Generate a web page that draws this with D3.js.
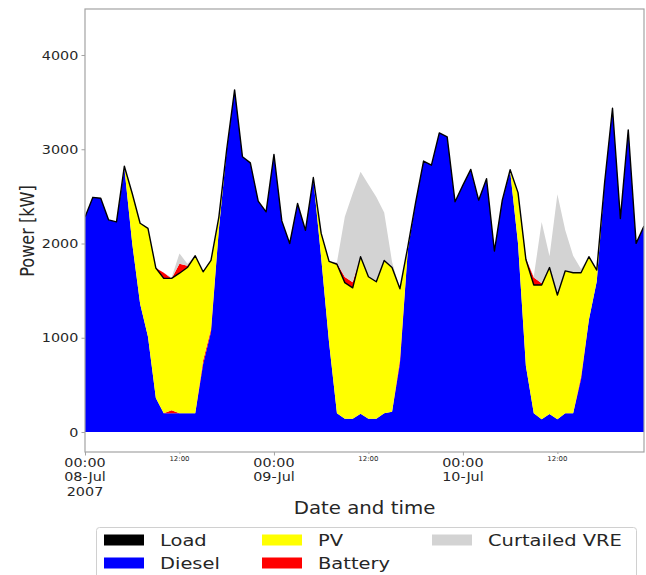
<!DOCTYPE html>
<html>
<head>
<meta charset="utf-8">
<script src="https://cdn.jsdelivr.net/npm/d3@7"></script>
<style>
  body { margin: 0; background: #fff; }
  svg { display: block; font-family: "DejaVu Sans", sans-serif; }
</style>
</head>
<body>
<div id="chart"></div>
<script>
// hourly values in kW, 08-Jul-2007 00:00 .. 10-Jul-2007 23:00
const load = [2280, 2490, 2480, 2250, 2230, 2820, 2530, 2215, 2160, 1740, 1630, 1630, 1685, 1745, 1870, 1700, 1820, 2280, 3000, 3630, 2920, 2855, 2450, 2336,
	2945, 2240, 2000, 2425, 2140, 2700, 2107, 1810, 1780, 1585, 1530, 1860, 1647, 1594, 1820, 1745, 1520, 1965, 2440, 2875, 2831, 3174, 3131, 2443,
	2619, 2786, 2460, 2688, 1920, 2460, 2782, 2540, 1830, 1559, 1559, 1745, 1453, 1710, 1690, 1690, 1860, 1718, 2650, 3435, 2266, 3205, 2001, 2185];
const diesel = [2280, 2490, 2480, 2250, 2230, 2800, 2000, 1360, 1010, 360, 200, 200, 200, 200, 200, 720, 1060, 2150, 2990, 3630, 2920, 2855, 2450, 2336,
	2945, 2240, 2000, 2425, 2140, 2690, 1850, 950, 200, 140, 140, 195, 140, 140, 200, 215, 730, 1930, 2440, 2875, 2831, 3174, 3131, 2443,
	2619, 2786, 2460, 2688, 1920, 2460, 2770, 2000, 700, 200, 135, 190, 135, 200, 200, 560, 1190, 1600, 2650, 3435, 2266, 3205, 2001, 2185];
// battery discharge (sits between diesel and PV)
const battery = [0, 0, 0, 0, 0, 0, 0, 0, 0, 0, 0, 30, 0, 0, 0, 40, 30, 0, 0, 0, 0, 0, 0, 0,
	0, 0, 0, 0, 0, 0, 0, 0, 0, 0, 0, 0, 0, 0, 0, 0, 40, 0, 0, 0, 0, 0, 0, 0,
	0, 0, 0, 0, 0, 0, 0, 0, 0, 0, 0, 0, 0, 0, 0, 30, 0, 0, 0, 0, 0, 0, 0, 0];
const pv = [0, 0, 0, 0, 0, 20, 530, 855, 1150, 1380, 1430, 1400, 1485, 1545, 1670, 940, 730, 130, 10, 0, 0, 0, 0, 0,
	0, 0, 0, 0, 0, 10, 257, 860, 1580, 1445, 1390, 1665, 1507, 1454, 1620, 1530, 750, 35, 0, 0, 0, 0, 0, 0,
	0, 0, 0, 0, 0, 0, 12, 540, 1130, 1359, 1424, 1555, 1318, 1510, 1490, 1100, 670, 118, 0, 0, 0, 0, 0, 0];
// battery charging (above the load line)
const charge = [0, 0, 0, 0, 0, 0, 0, 0, 0, 0, 60, 0, 100, 20, 0, 0, 0, 0, 0, 0, 0, 0, 0, 0,
	0, 0, 0, 0, 0, 0, 0, 0, 10, 60, 60, 0, 0, 0, 0, 0, 0, 0, 0, 0, 0, 0, 0, 0,
	0, 0, 0, 0, 0, 0, 0, 0, 10, 80, 20, 0, 0, 0, 0, 0, 0, 0, 0, 0, 0, 0, 0, 0];
const curtailed = [0, 0, 0, 0, 0, 0, 0, 0, 0, 0, 0, 10, 110, 20, 0, 0, 0, 0, 0, 0, 0, 0, 0, 0,
	0, 0, 0, 0, 0, 0, 0, 0, 10, 640, 940, 900, 980, 900, 510, 60, 0, 0, 0, 0, 0, 0, 0, 0,
	0, 0, 0, 0, 0, 0, 0, 0, 0, 10, 650, 120, 1070, 430, 180, 40, 0, 0, 0, 0, 0, 0, 0, 0];

const yTicks = [0, 1000, 2000, 3000, 4000];
const majorTicks = [new Date(2007, 6, 8, 0), new Date(2007, 6, 9, 0), new Date(2007, 6, 10, 0)];
const minorTicks = [new Date(2007, 6, 8, 12), new Date(2007, 6, 9, 12), new Date(2007, 6, 10, 12)];
const legendLabels = ['Load', 'Diesel', 'PV', 'Battery', 'Curtailed VRE'];
const legendColors = ['#000000', '#0000ff', '#ffff00', '#ff0000', '#d3d3d3'];

const width = 646, height = 575;
const textColor = '#262626';
const spineColor = '#a3a3a3';

let start = new Date(2007, 6, 8, 0);
let times = load.map((d, i) => d3.timeHour.offset(start, i));

let svg = d3.select('#chart').append('svg')
	.attr('width', width)
	.attr('height', height);

let x = d3.scaleTime()
	.domain(d3.extent(times))
	.range([85, 644]);
let y = d3.scaleLinear()
	.domain([-212, 4488])
	.range([452, 9]);

// stacked layers
let rows = times.map((t, i) => ({
	time: t, diesel: diesel[i], battery: battery[i], pv: pv[i], charge: charge[i], curtailed: curtailed[i]
}));
let keys = ['diesel', 'battery', 'pv', 'charge', 'curtailed'];
let fills = { diesel: '#0000ff', battery: '#ff0000', pv: '#ffff00', charge: '#ff0000', curtailed: '#d3d3d3' };
let series = d3.stack().keys(keys)(rows);

svg.append('defs').append('clipPath')
	.attr('id', 'plot-clip')
	.append('rect')
	.attr('x', 85).attr('y', 9)
	.attr('width', 559).attr('height', 443);

let area = d3.area()
	.x(d => x(d.data.time))
	.y0(d => y(d[0]))
	.y1(d => y(d[1]));

let plot = svg.append('g').attr('clip-path', 'url(#plot-clip)');
plot.selectAll('.layer')
	.data(series)
	.join('path')
	.attr('class', 'layer')
	.attr('d', area)
	.attr('fill', d => fills[d.key]);

let loadLine = d3.line()
	.x((d, i) => x(times[i]))
	.y(d => y(d));
plot.append('path')
	.attr('d', loadLine(load))
	.attr('fill', 'none')
	.attr('stroke', '#000')
	.attr('stroke-width', 1.4)
	.attr('stroke-linejoin', 'round');

// frame
svg.append('rect')
	.attr('x', 85).attr('y', 9)
	.attr('width', 559).attr('height', 443)
	.attr('fill', 'none')
	.attr('stroke', spineColor)
	.attr('stroke-width', 1.2);

// y axis
let yAxis = svg.append('g')
	.attr('transform', 'translate(85,0)')
	.call(d3.axisLeft(y).tickValues(yTicks).tickSize(3.5).tickFormat(d3.format('d')));
yAxis.select('.domain').remove();
yAxis.selectAll('line').attr('stroke', spineColor);
yAxis.selectAll('text')
	.attr('x', null)
	.attr('dy', null)
	.attr('transform', 'translate(-6.7,4.1) scale(1.26,1)')
	.attr('font-size', 11.4)
	.attr('font-family', '"DejaVu Sans", sans-serif')
	.attr('fill', textColor);

// x axis ticks
let xAxis = svg.append('g')
	.attr('transform', 'translate(0,452)')
	.call(d3.axisBottom(x).tickValues(majorTicks).tickSize(3.5).tickFormat(''));
xAxis.select('.domain').remove();
xAxis.selectAll('line').attr('stroke', spineColor);

let xMinor = svg.append('g')
	.attr('transform', 'translate(0,452)')
	.call(d3.axisBottom(x).tickValues(minorTicks).tickSize(2).tickFormat(''));
xMinor.select('.domain').remove();
xMinor.selectAll('line').attr('stroke', spineColor);

let fmtTime = d3.timeFormat('%H:%M');
let fmtDay = d3.timeFormat('%d-%b');
let fmtYear = d3.timeFormat('%Y');

majorTicks.forEach((t, i) => {
	let g = svg.append('g')
		.attr('transform', 'translate(' + x(t) + ',466.7) scale(1.26,1)')
		.attr('font-size', 11.4)
		.attr('fill', textColor)
		.attr('text-anchor', 'middle');
	let lines = [fmtTime(t), fmtDay(t)];
	if (i == 0) lines.push(fmtYear(t));
	lines.forEach((s, j) => {
		g.append('text').attr('y', j * 14.5).text(s);
	});
});

minorTicks.forEach(t => {
	svg.append('text')
		.attr('transform', 'translate(' + x(t) + ',460.6) scale(1.06,1)')
		.attr('font-size', 6.6)
		.attr('fill', textColor)
		.attr('text-anchor', 'middle')
		.text(fmtTime(t));
});

// axis titles
svg.append('text')
	.attr('transform', 'translate(364.5,514) scale(1.17,1)')
	.attr('font-size', 16.9)
	.attr('fill', textColor)
	.attr('text-anchor', 'middle')
	.text('Date and time');

svg.append('text')
	.attr('transform', 'translate(34,231) scale(1.25,1) rotate(-90)')
	.attr('font-size', 16.1)
	.attr('fill', textColor)
	.attr('text-anchor', 'middle')
	.text('Power [kW]');

// legend (3 columns, filled column by column)
let legend = svg.append('g');
legend.append('rect')
	.attr('x', 96.5).attr('y', 527.5)
	.attr('width', 540).attr('height', 70)
	.attr('rx', 3)
	.attr('fill', '#fff')
	.attr('stroke', '#d0d0d0');

let colX = [104, 262, 432];
let rowY = [540, 563];
legendLabels.forEach((label, i) => {
	let col = Math.floor(i / 2), row = i % 2;
	legend.append('rect')
		.attr('x', colX[col]).attr('y', rowY[row] - 5.5)
		.attr('width', 40).attr('height', 11)
		.attr('fill', legendColors[i]);
	legend.append('text')
		.attr('transform', 'translate(' + (colX[col] + 56) + ',' + (rowY[row] + 6) + ') scale(1.18,1)')
		.attr('font-size', 16.5)
		.attr('fill', textColor)
		.text(label);
});
</script>
</body>
</html>
